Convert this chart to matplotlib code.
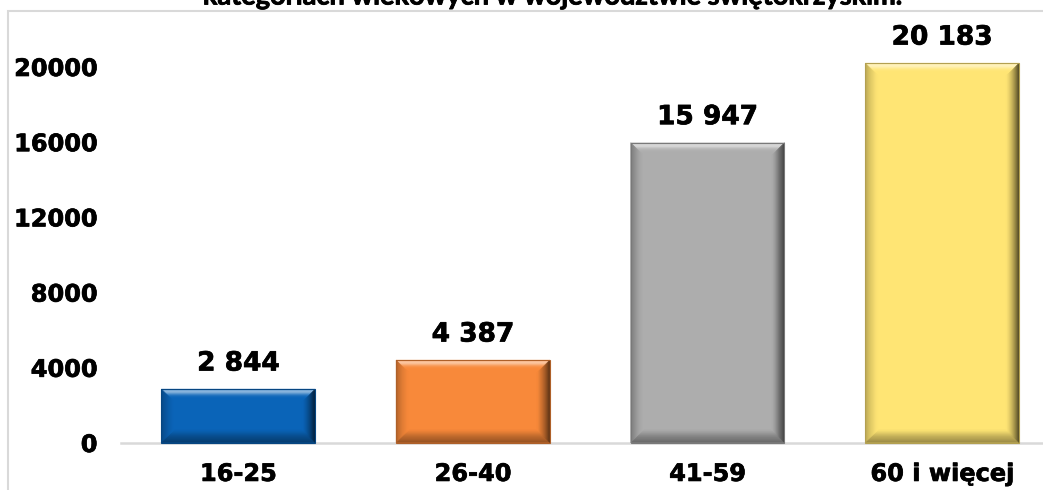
import matplotlib
matplotlib.use("Agg")
import matplotlib.pyplot as plt
from matplotlib.patches import Polygon, Rectangle
import matplotlib.patheffects as pe
import numpy as np

categories = ["16-25", "26-40", "41-59", "60 i więcej"]
values = [2844, 4387, 15947, 20183]
value_labels = ["2 844", "4 387", "15 947", "20 183"]
colors = ["#0a64b8", "#f8893a", "#adadad", "#ffe574"]
yticks = [0, 4000, 8000, 12000, 16000, 20000]
title = "kategoriach wiekowych w województwie świętokrzyskim."

W, H = 1043, 490
fig = plt.figure(figsize=(W / 100, H / 100), dpi=100)
plt.rcParams['font.family'] = ['DejaVu Sans']

ax_left = 121 / W
ax_right = 1059.5 / W
ax_bottom = (H - 442.5) / H
ax_top = (H - 28.9) / H
ax = fig.add_axes([ax_left, ax_bottom, ax_right - ax_left, ax_top - ax_bottom])

heavy = [pe.withStroke(linewidth=0.5, foreground="black")]

x = np.arange(len(categories))
bars = ax.bar(x, values, width=0.655, color=colors, zorder=2,
              edgecolor="none")
ax.set_xlim(-0.5, 3.5)
ax.set_ylim(0, 22000)
ax.set_yticks(yticks)
ax.set_yticklabels([str(v) for v in yticks])
ax.set_xticks(x)
ax.set_xticklabels(categories)
for s in ["top", "right", "left"]:
    ax.spines[s].set_visible(False)
ax.spines["bottom"].set_color("#d9d9d9")
ax.spines["bottom"].set_linewidth(1.8)
ax.spines["bottom"].set_zorder(1)
ax.tick_params(axis="y", length=0, pad=17, labelsize=17.3)
ax.tick_params(axis="x", length=0, pad=14, labelsize=17.3)
for lab in ax.get_xticklabels() + ax.get_yticklabels():
    lab.set_fontweight("bold")
    lab.set_path_effects(heavy)

fig.canvas.draw()

def mix(c, target, t):
    c = np.array(matplotlib.colors.to_rgb(c))
    target = np.array(target)
    return tuple(c * (1 - t) + target * t)

def bevel(patch, color, b=13, n=12):
    bb = patch.get_window_extent()
    x0, y0, x1, y1 = bb.x0, bb.y0, bb.x1, bb.y1
    white, black = (1, 1, 1), (0, 0, 0)
    for i in range(n):
        d0 = b * i / n
        d1 = b * (i + 1) / n
        t = (i + 0.5) / n
        frac = 1 - t
        top_amt = 0.55 * np.exp(-((t - 0.2) / 0.25) ** 2)
        cols = {
            "top": mix(color, white, top_amt),
            "bottom": mix(color, black, 0.45 * frac),
            "left": mix(color, black, 0.3 * frac ** 1.5),
            "right": mix(color, black, 0.7 * frac ** 1.3),
        }
        for side, col in cols.items():
            if side == "top":
                pts = [(x0 + d0, y1 - d0), (x1 - d0, y1 - d0), (x1 - d1, y1 - d1), (x0 + d1, y1 - d1)]
            elif side == "bottom":
                pts = [(x0 + d0, y0 + d0), (x1 - d0, y0 + d0), (x1 - d1, y0 + d1), (x0 + d1, y0 + d1)]
            elif side == "left":
                pts = [(x0 + d0, y0 + d0), (x0 + d0, y1 - d0), (x0 + d1, y1 - d1), (x0 + d1, y0 + d1)]
            else:
                pts = [(x1 - d0, y0 + d0), (x1 - d0, y1 - d0), (x1 - d1, y1 - d1), (x1 - d1, y0 + d1)]
            p = Polygon(pts, closed=True, facecolor=col, edgecolor=col, linewidth=0.3,
                        transform=None, zorder=3)
            fig.add_artist(p)
    outline = Rectangle((x0, y0), x1 - x0, y1 - y0, fill=False,
                        edgecolor=mix(color, black, 0.3), linewidth=0.8,
                        transform=None, zorder=4)
    fig.add_artist(outline)

for patch, c in zip(bars, colors):
    bevel(patch, c)

for xi, v, lab in zip(x, values, value_labels):
    ax.annotate(lab, (xi, v), xytext=(0, 9), textcoords="offset points",
                ha="center", va="bottom", fontsize=19, fontweight="bold", color="black",
                path_effects=heavy)

# chart area border (cropped)
fig.add_artist(Rectangle((8 / W, -0.1), 1.2, (H - 11) / H + 0.1, fill=False,
                         edgecolor="#d9d9d9", linewidth=1.5, transform=fig.transFigure))

# title (only its lower part is visible, as in the source image)
t = fig.text(552 / W, (H - 4.5) / H, title, ha="center", va="baseline",
             fontsize=17, fontweight="bold", color="black", family=["Lato", "DejaVu Sans"],
             path_effects=[pe.withStroke(linewidth=0.6, foreground="black")])
fig.canvas.draw()
wpx = t.get_window_extent().width
t.set_fontsize(17 * 700 / wpx)

fig.savefig("out.png", dpi=100)
